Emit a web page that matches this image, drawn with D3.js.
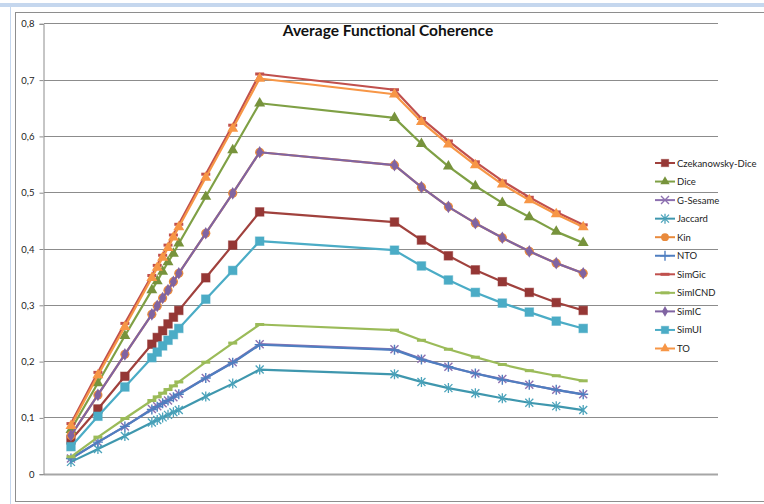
<!DOCTYPE html>
<html>
<head>
<meta charset="utf-8">
<script src="https://cdn.jsdelivr.net/npm/d3@7"></script>
<style>
  html, body { margin: 0; padding: 0; background: #fff; }
  svg { display: block; }
</style>
</head>
<body>
<svg id="chart" width="764" height="504"></svg>
<script>
// Sample positions along the x axis (numeric, unevenly spaced)
const xs = [1, 2, 3, 4, 4.2, 4.4, 4.6, 4.8, 5, 6, 7, 8, 13, 14, 15, 16, 17, 18, 19, 20];

// Y axis tick labels (comma decimal)
const yTicks = [0, 0.1, 0.2, 0.3, 0.4, 0.5, 0.6, 0.7, 0.8];
const yTickLabels = ["0", "0,1", "0,2", "0,3", "0,4", "0,5", "0,6", "0,7", "0,8"];

const seriesNames = ["Czekanowsky-Dice", "Dice", "G-Sesame", "Jaccard", "Kin", "NTO",
                     "SimGic", "SimICND", "SimIC", "SimUI", "TO"];

const czekanowskyDice = [0.060, 0.115, 0.173, 0.230, 0.242, 0.254, 0.266, 0.278, 0.290, 0.348, 0.406, 0.465, 0.447, 0.415, 0.387, 0.362, 0.341, 0.322, 0.304, 0.290];
const dice            = [0.078, 0.161, 0.245, 0.326, 0.342, 0.359, 0.376, 0.391, 0.409, 0.492, 0.575, 0.658, 0.632, 0.586, 0.546, 0.511, 0.481, 0.456, 0.430, 0.410];
const gSesame         = [0.027, 0.056, 0.084, 0.115, 0.120, 0.125, 0.130, 0.136, 0.142, 0.170, 0.198, 0.230, 0.221, 0.204, 0.190, 0.178, 0.168, 0.158, 0.149, 0.141];
const jaccard         = [0.021, 0.044, 0.067, 0.091, 0.0955, 0.100, 0.1045, 0.109, 0.113, 0.137, 0.160, 0.185, 0.1765, 0.163, 0.152, 0.143, 0.134, 0.126, 0.120, 0.113];
const kin             = [0.068, 0.140, 0.212, 0.283, 0.298, 0.312, 0.326, 0.341, 0.356, 0.427, 0.498, 0.571, 0.548, 0.509, 0.474, 0.445, 0.419, 0.395, 0.374, 0.356];
const nto             = [0.027, 0.056, 0.084, 0.114, 0.119, 0.125, 0.130, 0.136, 0.141, 0.170, 0.197, 0.229, 0.220, 0.203, 0.190, 0.178, 0.167, 0.158, 0.149, 0.141];
const simGic          = [0.089, 0.180, 0.267, 0.352, 0.370, 0.388, 0.406, 0.424, 0.443, 0.532, 0.619, 0.710, 0.682, 0.631, 0.591, 0.554, 0.520, 0.491, 0.465, 0.442];
const simICND         = [0.030, 0.065, 0.098, 0.130, 0.1365, 0.143, 0.1495, 0.156, 0.163, 0.198, 0.232, 0.265, 0.255, 0.237, 0.221, 0.207, 0.194, 0.183, 0.174, 0.165];
const simIC           = [0.068, 0.140, 0.212, 0.283, 0.298, 0.312, 0.326, 0.341, 0.356, 0.427, 0.498, 0.571, 0.548, 0.509, 0.474, 0.445, 0.419, 0.395, 0.374, 0.356];
const simUI           = [0.048, 0.102, 0.154, 0.206, 0.216, 0.227, 0.237, 0.247, 0.258, 0.310, 0.361, 0.413, 0.397, 0.369, 0.344, 0.322, 0.303, 0.287, 0.271, 0.258];
const to              = [0.085, 0.175, 0.261, 0.348, 0.366, 0.384, 0.401, 0.420, 0.438, 0.526, 0.613, 0.702, 0.674, 0.625, 0.585, 0.548, 0.514, 0.486, 0.461, 0.438];

const seriesValues = [czekanowskyDice, dice, gSesame, jaccard, kin, nto, simGic, simICND, simIC, simUI, to];

// Styling per series: line colour, marker colour, marker kind
const styles = [
  { line: "#A0413D", mark: "#953735", kind: "square" },
  { line: "#7FA045", mark: "#77933C", kind: "triangle" },
  { line: "#8D70B0", mark: "#8D70B0", kind: "cross" },
  { line: "#3F97AE", mark: "#4BA3BB", kind: "asterisk" },
  { line: "#E98A3C", mark: "#E98A3C", kind: "circle" },
  { line: "#4F7EC0", mark: "#4F7EC0", kind: "plus" },
  { line: "#C0504D", mark: "#C0504D", kind: "dash" },
  { line: "#9BBB59", mark: "#9BBB59", kind: "dash" },
  { line: "#8064A2", mark: "#8064A2", kind: "diamond" },
  { line: "#4BACC6", mark: "#4BACC6", kind: "square" },
  { line: "#F79646", mark: "#F79646", kind: "triangle" }
];

const svg = d3.select("#chart");

// Outer frame
svg.append("rect").attr("x", 0).attr("y", 0).attr("width", 764).attr("height", 504).attr("fill", "#fff");
svg.append("rect").attr("x", 0).attr("y", 3).attr("width", 764).attr("height", 4).attr("fill", "#C5D7EE");
svg.append("line").attr("x1", 10.5).attr("x2", 10.5).attr("y1", 7).attr("y2", 504)
  .attr("stroke", "#C5D7EE").attr("stroke-width", 1);
svg.append("rect").attr("x", 15.5).attr("y", 12.5).attr("width", 760).attr("height", 489)
  .attr("fill", "#fff").attr("stroke", "#8E8E8E").attr("stroke-width", 1);

const x = d3.scaleLinear().domain([0, 25]).range([44, 718]);
const y = d3.scaleLinear().domain([0, 0.8]).range([473.7, 23.3]);

// Horizontal gridlines
svg.append("g")
  .selectAll("line")
  .data(yTicks)
  .join("line")
  .attr("x1", x(0)).attr("x2", x(25))
  .attr("y1", d => Math.round(y(d)) + 0.5).attr("y2", d => Math.round(y(d)) + 0.5)
  .attr("stroke", d => d === 0 ? "#A6A6A6" : "#8C8C8C")
  .attr("stroke-width", d => d === 0 ? 2 : 1);

// Y axis
const yAxis = d3.axisLeft(y)
  .tickValues(yTicks)
  .tickSize(4)
  .tickPadding(5)
  .tickFormat((d, i) => yTickLabels[i]);

const gy = svg.append("g")
  .attr("transform", `translate(${x(0) - 0.5},0.5)`)
  .call(yAxis);
gy.select(".domain").attr("stroke", "#8C8C8C");
gy.selectAll(".tick line").attr("stroke", "#8C8C8C");
gy.selectAll(".tick text")
  .attr("font-family", "Lato, 'Open Sans', sans-serif")
  .attr("font-size", 9.5)
  .attr("fill", "#222");

// Title
svg.append("text")
  .attr("x", 388).attr("y", 36)
  .attr("text-anchor", "middle")
  .attr("font-family", "Lato, 'Open Sans', sans-serif")
  .attr("font-weight", "bold")
  .attr("font-size", 15.5)
  .attr("fill", "#111")
  .text("Average Functional Coherence");

// Marker drawing
function drawMarker(g, kind, color, size) {
  const s = size || 1;
  if (kind === "square") {
    g.append("rect").attr("x", -4.3 * s).attr("y", -4.3 * s)
      .attr("width", 8.6 * s).attr("height", 8.6 * s)
      .attr("fill", color).attr("stroke", color).attr("stroke-opacity", 0.5);
  } else if (kind === "triangle") {
    g.append("path").attr("d", d3.symbol(d3.symbolTriangle, 52 * s * s)())
      .attr("fill", color);
  } else if (kind === "diamond") {
    g.append("path").attr("d", d3.symbol(d3.symbolDiamond, 46 * s * s)())
      .attr("fill", color);
  } else if (kind === "circle") {
    g.append("circle").attr("r", 4.6 * s).attr("fill", color);
  } else if (kind === "cross") {
    g.append("path").attr("d", `M-4,-4L4,4M-4,4L4,-4`)
      .attr("stroke", color).attr("stroke-width", 1.4).attr("fill", "none");
  } else if (kind === "asterisk") {
    g.append("path").attr("d", `M-4,-4L4,4M-4,4L4,-4M0,-5L0,5`)
      .attr("stroke", color).attr("stroke-width", 1.3).attr("fill", "none");
  } else if (kind === "plus") {
    g.append("path").attr("d", `M-5,0L5,0M0,-5L0,5`)
      .attr("stroke", color).attr("stroke-width", 1.4).attr("fill", "none");
  } else if (kind === "dash") {
    g.append("path").attr("d", `M-4.5,0L4.5,0`)
      .attr("stroke", color).attr("stroke-width", 3).attr("fill", "none");
  }
}

const line = d3.line()
  .x((d, i) => x(xs[i]))
  .y(d => y(d));

const plot = svg.append("g");
seriesValues.forEach((vals, si) => {
  const st = styles[si];
  const g = plot.append("g");
  g.append("path")
    .datum(vals)
    .attr("d", line)
    .attr("fill", "none")
    .attr("stroke", st.line)
    .attr("stroke-width", 2.2)
    .attr("stroke-linejoin", "round");
  g.selectAll("g.pt")
    .data(vals)
    .join("g")
    .attr("class", "pt")
    .attr("transform", (d, i) => `translate(${x(xs[i])},${y(d)})`)
    .each(function () { drawMarker(d3.select(this), st.kind, st.mark); });
});

// Legend
const legend = svg.append("g").attr("transform", "translate(655,163)");
seriesNames.forEach((name, i) => {
  const st = styles[i];
  const row = legend.append("g").attr("transform", `translate(0,${i * 18.55})`);
  row.append("line").attr("x1", 0).attr("x2", 20).attr("y1", 0).attr("y2", 0)
    .attr("stroke", st.line).attr("stroke-width", 2);
  const m = row.append("g").attr("transform", "translate(10,0)");
  drawMarker(m, st.kind, st.mark, 0.85);
  row.append("text")
    .attr("x", 22).attr("y", 3.5)
    .attr("font-family", "Lato, 'Open Sans', sans-serif")
    .attr("font-size", 9.5)
    .attr("fill", "#222")
    .text(name);
});
</script>
</body>
</html>
